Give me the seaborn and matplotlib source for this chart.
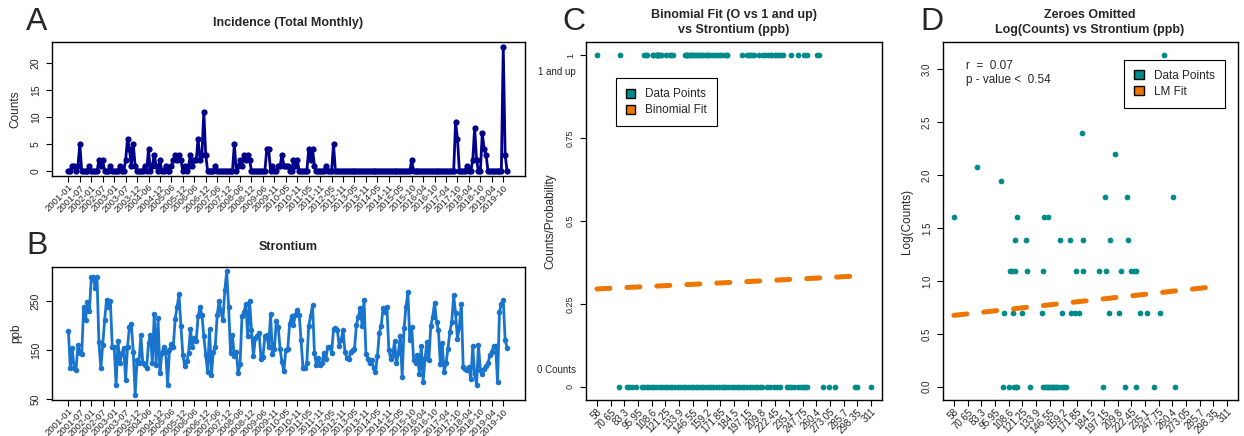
import numpy as np
import pandas as pd
import matplotlib
matplotlib.use("Agg")
import matplotlib.pyplot as plt
import seaborn as sns
from matplotlib.patches import Patch

# ---- time series (monthly) ----
month_ticks = ["2001-01", "2001-07", "2002-01", "2002-07", "2003-01", "2003-07", "2003-12",
               "2004-06", "2004-12", "2005-06", "2005-12", "2006-06", "2006-12", "2007-06",
               "2007-12", "2008-06", "2008-12", "2009-06", "2009-11", "2010-05", "2010-11",
               "2011-05", "2011-11", "2012-05", "2012-11", "2013-05", "2013-11", "2014-05",
               "2014-11", "2015-05", "2015-10", "2016-04", "2016-10", "2017-04", "2017-10",
               "2018-04", "2018-10", "2019-04", "2019-10"]

incidence = [0, 0, 1, 1, 0, 1, 5, 0, 0, 0, 0, 1, 0, 0, 0, 0, 2, 1, 2, 0,
             0, 0, 1, 0, 0, 0, 0, 1, 0, 0, 2, 6, 4, 1, 5, 1, 0, 0, 0, 0,
             1, 0, 4, 0, 1, 3, 1, 0, 2, 0, 0, 1, 0, 0, 1, 2, 3, 2, 3, 2,
             0, 1, 0, 1, 3, 1, 2, 2, 6, 2, 3, 11, 3, 0, 0, 0, 0, 1, 0, 0,
             0, 0, 0, 0, 0, 0, 0, 5, 0, 1, 2, 1, 3, 2, 3, 2, 0, 0, 0, 0,
             0, 0, 0, 0, 4, 4, 0, 1, 0, 0, 1, 1, 3, 1, 1, 1, 0, 0, 2, 1,
             2, 0, 0, 0, 0, 0, 4, 2, 4, 1, 0, 0, 0, 0, 0, 1, 0, 0, 0, 5,
             0, 0, 0, 0, 0, 0, 0, 0, 0, 0, 0, 0, 0, 0, 0, 0, 0, 0, 0, 0,
             0, 0, 0, 0, 0, 0, 0, 0, 0, 0, 0, 0, 0, 0, 0, 0, 0, 0, 0, 0,
             2, 0, 0, 0, 0, 0, 0, 0, 0, 0, 0, 0, 0, 0, 0, 0, 0, 0, 0, 0,
             0, 0, 0, 9, 6, 0, 0, 0, 0, 1, 0, 0, 2, 8, 2, 0, 0, 7, 4, 3,
             0, 0, 0, 0, 0, 0, 0, 0, 23, 3, 0]

strontium = [189, 113, 154, 113, 110, 161, 144, 142, 239, 212, 249, 229, 299, 299, 278, 299, 166, 113, 161, 212,
             253, 239, 251, 157, 157, 79, 168, 123, 144, 154, 89, 157, 198, 204, 147, 59, 130, 123, 181, 123,
             120, 113, 164, 181, 123, 223, 120, 215, 103, 144, 157, 147, 79, 151, 163, 157, 214, 239, 264, 200,
             140, 117, 127, 144, 193, 157, 174, 168, 219, 238, 222, 178, 140, 106, 193, 100, 147, 157, 221, 251,
             229, 212, 272, 312, 239, 145, 181, 137, 147, 103, 121, 219, 227, 244, 179, 251, 191, 137, 174, 179,
             185, 132, 136, 178, 180, 157, 223, 142, 152, 210, 198, 152, 125, 108, 151, 152, 204, 219, 202, 222,
             232, 222, 170, 113, 113, 123, 200, 220, 242, 145, 120, 134, 120, 123, 145, 132, 157, 157, 145, 193,
             195, 191, 159, 171, 191, 147, 134, 132, 147, 151, 152, 202, 217, 237, 200, 253, 142, 132, 123, 130,
             113, 106, 137, 185, 200, 236, 227, 239, 151, 132, 140, 168, 123, 144, 178, 96, 195, 239, 268, 171,
             198, 130, 123, 140, 102, 158, 85, 133, 167, 130, 199, 218, 247, 208, 191, 121, 164, 106, 123, 153,
             187, 208, 262, 225, 172, 198, 245, 116, 112, 109, 116, 91, 158, 102, 79, 160, 109, 102, 112, 117,
             123, 140, 147, 158, 158, 85, 228, 245, 252, 170, 155]

# ---- strontium vs counts ----
sr_nonzero = [252.2, 176.2, 207.3, 79.2, 101.4, 198.3, 218.4, 260.9, 58.3, 116.8, 141.4, 145.0,
              114.3, 125.1, 156.2, 165.1, 178.0, 203.0, 219.0,
              110.0, 112.2, 114.3, 126.0, 140.1, 171.2, 178.0, 192.1, 199.2, 212.8, 222.0, 224.5, 227.0,
              104.4, 113.0, 121.4, 139.5, 158.3, 166.9, 169.9, 173.6, 201.3, 210.9, 229.9, 236.8, 249.1,
              103.5, 109.4, 113.6, 115.2, 116.8, 128.4, 140.8, 142.2, 143.8, 145.3, 146.8, 148.4, 150.0,
              151.5, 153.0, 154.6, 158.3, 160.4, 162.2, 196.1, 216.1, 226.9, 243.3, 263.0]
count_nonzero = [23, 11, 9, 8, 7, 6, 6, 6, 5, 5, 5, 5,
                 4, 4, 4, 4, 4, 4, 4,
                 3, 3, 3, 3, 3, 3, 3, 3, 3, 3, 3, 3, 3,
                 2, 2, 2, 2, 2, 2, 2, 2, 2, 2, 2, 2, 2,
                 1, 1, 1, 1, 1, 1, 1, 1, 1, 1, 1, 1, 1,
                 1, 1, 1, 1, 1, 1, 1, 1, 1, 1, 1]
sr_zero = [78, 85.7, 88, 90.3, 94.3, 99.5, 101.5, 104, 106.5, 109, 111, 113.5, 116, 118, 120.5,
           123, 125.5, 127.5, 130, 132.5, 135, 137, 139.5, 142, 144.5, 146.5, 149, 151.5, 154, 156,
           158.5, 161, 163.5, 165.5, 168, 170.5, 173, 175, 177.5, 180, 182.5, 184.5, 187, 189.5,
           192, 194, 196.5, 199, 201.5, 203.5, 206, 208.5, 210.5, 215, 218, 221, 224, 226.5, 233,
           235.5, 237.5, 239.5, 243.5, 246, 248, 250, 252, 266.5, 272, 278, 296.5, 298, 311]
sr_ticks = [58, 70.65, 83.3, 95.95, 108.6, 121.25, 133.9, 146.55, 159.2, 171.85, 184.5,
            197.15, 209.8, 222.45, 235.1, 247.75, 260.4, 273.05, 285.7, 298.35, 311]

binom_coef = (-0.915, 0.000754)   # logit intercept, slope
lm_coef = (0.61, 0.001125)        # intercept, slope
fit_span = (58, 300)
r_value = 0.07
p_value = 0.54

navy = "#00008B"
sr_blue = "#1874CD"
teal = "#008B8B"
orange = "#EE7600"

sns.set_style("white")
plt.rcParams['font.family'] = ['Liberation Sans', 'DejaVu Sans']
plt.rcParams['axes.edgecolor'] = 'black'
plt.rcParams['axes.linewidth'] = 1.0

W, H = 1244, 436
fig = plt.figure(figsize=(W / 100, H / 100), dpi=100)


def px_axes(left, top, right, bottom):
    return fig.add_axes([left / W, 1 - bottom / H, (right - left) / W, (bottom - top) / H])


def ftext(x, y, s, **kw):
    fig.text(x / W, 1 - y / H, s, ha='center', va='center', **kw)


def style_axes(ax, ysize, xsize):
    for sp in ax.spines.values():
        sp.set_visible(True)
        sp.set_color('black')
        sp.set_linewidth(1.0)
    ax.tick_params(axis='both', direction='out', length=4, width=0.8, color='black',
                   left=True, bottom=True)
    ax.tick_params(axis='y', labelsize=ysize, pad=4)
    ax.tick_params(axis='x', labelsize=xsize, pad=1)
    for lbl in ax.get_yticklabels():
        lbl.set_rotation(90)
        lbl.set_va('center')


def add_legend(ax, fit_label, anchor):
    leg = ax.legend(handles=[Patch(facecolor=teal, edgecolor='black', label='Data Points'),
                             Patch(facecolor=orange, edgecolor='black', label=fit_label)],
                    loc='upper left', bbox_to_anchor=anchor, fontsize=8.5,
                    fancybox=False, edgecolor='black', framealpha=1, handlelength=0.8,
                    handleheight=0.8, handletextpad=0.85, borderpad=0.85, labelspacing=0.35,
                    borderaxespad=0)
    leg.get_frame().set_linewidth(0.8)


idx = np.arange(len(incidence))

# ---- A ----
ax_a = px_axes(52, 42, 525, 176)
sns.lineplot(x=idx, y=incidence, ax=ax_a, color=navy, lw=2.0, marker='o',
             markersize=4.5, markeredgewidth=0)
ax_a.set_xlim(-8.6, 239.4)
ax_a.set_ylim(-0.92, 23.92)
ax_a.set_yticks([0, 5, 10, 15, 20])
ax_a.set_xticks(idx[::6])
ax_a.set_xticklabels(month_ticks, rotation=45, ha='right', rotation_mode='anchor')
style_axes(ax_a, 7.5, 6.8)
ax_a.set_ylabel("Counts", fontsize=8.5)
ax_a.yaxis.set_label_coords(-0.0655, 0.5)

# ---- B ----
ax_b = px_axes(52, 267, 525, 400)
sns.lineplot(x=idx, y=strontium, ax=ax_b, color=sr_blue, lw=2.0, marker='o',
             markersize=4, markeredgewidth=0)
ax_b.set_xlim(-8.6, 239.4)
ax_b.set_ylim(48, 320)
ax_b.set_yticks([50, 150, 250])
ax_b.set_xticks(idx[::6])
ax_b.set_xticklabels(month_ticks, rotation=45, ha='right', rotation_mode='anchor')
style_axes(ax_b, 7.5, 6.8)
ax_b.set_ylabel("ppb", fontsize=8.5)
ax_b.yaxis.set_label_coords(-0.063, 0.5)

# ---- C ----
ax_c = px_axes(586, 42, 882, 400)
sns.scatterplot(x=sr_zero, y=np.zeros(len(sr_zero)), ax=ax_c, color=teal, s=17, linewidth=0)
sns.scatterplot(x=sr_nonzero, y=np.ones(len(sr_nonzero)), ax=ax_c, color=teal, s=17, linewidth=0)
x_fit = np.linspace(fit_span[0], fit_span[1], 80)
p_fit = 1 / (1 + np.exp(-(binom_coef[0] + binom_coef[1] * x_fit)))
sns.lineplot(x=x_fit, y=p_fit, ax=ax_c, color=orange, lw=3.6)
ax_c.lines[-1].set_dashes([2.6, 3.4])
ax_c.lines[-1].set_dash_capstyle('round')
ax_c.set_xlim(47.9, 321.1)
ax_c.set_ylim(-0.04, 1.04)
ax_c.set_yticks([0, 0.25, 0.5, 0.75, 1])
ax_c.set_yticklabels(['0', '0.25', '0.5', '0.75', '1'])
ax_c.set_xticks(sr_ticks)
ax_c.set_xticklabels([f"{v:g}" for v in sr_ticks], rotation=45, ha='right', rotation_mode='anchor')
style_axes(ax_c, 6.5, 7)
ax_c.set_ylabel("Counts/Probability", fontsize=8.5)
ax_c.yaxis.set_label_coords(-0.101, 0.5)
ax_c.text(-0.034, 0.95, "1 and up", transform=ax_c.get_yaxis_transform(), ha='right',
          va='center', fontsize=7)
ax_c.text(-0.034, 0.05, "0 Counts", transform=ax_c.get_yaxis_transform(), ha='right',
          va='center', fontsize=7)
add_legend(ax_c, 'Binomial Fit', (0.101, 0.899))

# ---- D ----
ax_d = px_axes(943, 42, 1238, 400)
sns.scatterplot(x=sr_nonzero, y=np.log(count_nonzero), ax=ax_d, color=teal, s=17, linewidth=0)
lm_fit = lm_coef[0] + lm_coef[1] * x_fit
sns.lineplot(x=x_fit, y=lm_fit, ax=ax_d, color=orange, lw=3.6)
ax_d.lines[-1].set_dashes([2.6, 3.4])
ax_d.lines[-1].set_dash_capstyle('round')
ax_d.set_xlim(47.9, 321.1)
ax_d.set_ylim(-0.125, 3.26)
ax_d.set_yticks([0, 0.5, 1.0, 1.5, 2.0, 2.5, 3.0])
ax_d.set_yticklabels(['0.0', '0.5', '1.0', '1.5', '2.0', '2.5', '3.0'])
ax_d.set_xticks(sr_ticks)
ax_d.set_xticklabels([f"{v:g}" for v in sr_ticks], rotation=45, ha='right', rotation_mode='anchor')
style_axes(ax_d, 7, 7)
ax_d.set_ylabel("Log(Counts)", fontsize=8.5)
ax_d.yaxis.set_label_coords(-0.102, 0.5)
ax_d.text(69, 3.03, f"r  =  {r_value}", fontsize=8.5, va='center')
ax_d.text(69, 2.90, f"p - value <  {p_value}", fontsize=8.5, va='center')
add_legend(ax_d, 'LM Fit', (0.614, 0.95))

# ---- titles and panel letters ----
ftext(288, 23, "Incidence (Total Monthly)", fontsize=9, fontweight='bold')
ftext(288, 247, "Strontium", fontsize=9, fontweight='bold')
ftext(734, 15, "Binomial Fit (O vs 1 and up)", fontsize=9, fontweight='bold')
ftext(734, 30, "vs Strontium (ppb)", fontsize=9, fontweight='bold')
ftext(1090, 15, "Zeroes Omitted", fontsize=9, fontweight='bold')
ftext(1090, 30, "Log(Counts) vs Strontium (ppb)", fontsize=9, fontweight='bold')
ftext(37, 22, "A", fontsize=23)
ftext(37, 246, "B", fontsize=23)
ftext(574, 22, "C", fontsize=23)
ftext(932, 22, "D", fontsize=23)

fig.savefig("out.png", dpi=100)
